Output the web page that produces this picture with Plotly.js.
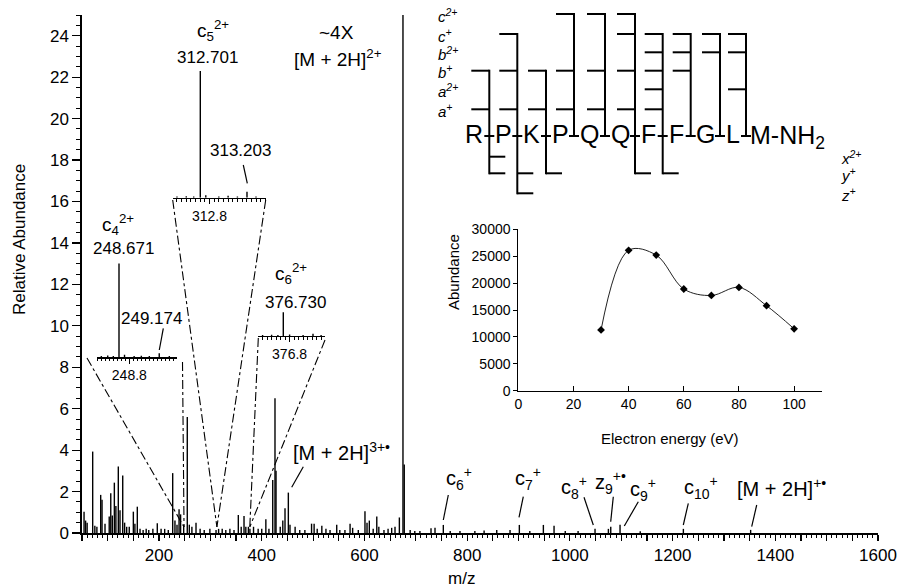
<!DOCTYPE html>
<html><head><meta charset="utf-8">
<script src="https://cdn.plot.ly/plotly-3.0.1.min.js"></script>
<style>html,body{margin:0;padding:0;background:#fff}</style>
</head><body><div id="chart" style="width:897px;height:588px"></div>
<script>
// ---------------- DATA ----------------
// Main ECD/EID spectrum (stick peaks): m/z and relative abundance
const peakMz = [54, 57, 60, 70.8, 75, 79, 86.4, 89, 94.8, 103, 106, 109, 113, 116, 120.7, 124, 129.3, 133, 137, 142,
  150, 153, 157.7, 163, 169, 175, 180, 188, 196.6, 204, 211, 218, 226.6, 231, 235, 239, 242, 248, 255, 259, 264, 272,
  280, 288, 299, 311, 316, 323, 330, 338, 346, 354.4, 360, 365.5, 369, 374, 377, 384, 393, 400, 408, 414, 421.4, 425.8,
  427.8, 436, 441, 445.3, 451.8, 455, 465, 474, 484, 497, 502, 508, 517, 525, 533, 546, 552, 562, 572, 577, 588, 601,
  605, 609.5, 617, 624, 628, 638, 646, 653, 659.5, 668, 675, 677.5, 689, 698, 708, 729.6, 737.4, 753.6, 767, 786, 815,
  833, 857.6, 883.5, 901.6, 922, 948.4, 969.2, 991, 1016, 1049, 1075, 1079.6, 1097.7, 1137, 1221, 1352];
const peakAbund = [1.03, 0.6, 0.5, 3.93, 0.35, 0.3, 1.84, 1.6, 0.45, 0.8, 1.92, 0.85, 2.43, 1.3, 3.21, 1.1, 2.77, 0.5, 0.3, 0.3,
  1.03, 0.45, 1.27, 0.2, 0.15, 0.2, 0.15, 0.2, 0.47, 0.2, 0.2, 0.15, 2.89, 0.6, 0.4, 1.15, 0.9, 0.4, 5.6, 0.4, 0.3, 0.5,
  0.2, 0.15, 0.2, 0.15, 0.2, 0.2, 0.15, 0.2, 0.15, 0.87, 0.3, 0.82, 0.3, 0.3, 0.2, 0.3, 0.2, 0.2, 0.66, 0.2, 2.56, 6.5,
  3.0, 0.3, 0.6, 1.19, 1.95, 0.4, 0.3, 0.15, 0.15, 0.45, 0.45, 0.2, 0.35, 0.2, 0.15, 0.4, 0.15, 0.15, 0.45, 0.25, 0.15, 1.05,
  0.5, 0.6, 0.2, 0.8, 0.3, 0.15, 0.2, 0.25, 0.3, 0.75, 100, 3.3, 0.15, 0.1, 0.1, 0.23, 0.25, 0.39, 0.1, 0.1, 0.1,
  0.12, 0.15, 0.15, 0.39, 0.1, 0.39, 0.35, 0.1, 0.1, 0.2, 0.2, 0.3, 0.4, 0.08, 0.2, 0.15];

// Zoomed isotope clusters (same relative scale, c5 2+ = 100)
const c4Mz = [248.45, 248.53, 248.60, 248.671, 248.74, 248.86, 248.95, 249.05, 249.174, 249.3];
const c4Abund = [1.0, 1.5, 1.0, 74, 2.0, 1.0, 1.2, 1.0, 3.2, 1.0];
const c5Mz = [312.45, 312.55, 312.63, 312.701, 312.76, 312.9, 313.0, 313.1, 313.203, 313.3];
const c5Abund = [1.0, 1.2, 1.0, 100, 2.0, 1.0, 1.5, 1.0, 4.7, 1.0];
const c6Mz = [376.5, 376.6, 376.67, 376.730, 376.8, 376.95, 377.06, 377.15];
const c6Abund = [0.8, 1.0, 0.8, 18.7, 1.2, 0.8, 1.8, 0.8];

// Inset: abundance vs electron energy
const energyEv = [30, 40, 50, 60, 70, 80, 90, 100];
const energyAbund = [11300, 26100, 25200, 18900, 17700, 19200, 15800, 11500];

// Fragmentation map of substance P
const residues = ['R', 'P', 'K', 'P', 'Q', 'Q', 'F', 'F', 'G', 'L', 'M-NH<sub>2</sub>'];
const nRowLabels = ['c<sup>2+</sup>', 'c<sup>+</sup>', 'b<sup>2+</sup>', 'b<sup>+</sup>', 'a<sup>2+</sup>', 'a<sup>+</sup>'];
const c2Sites = [4, 5, 6];
const c1Sites = [2, 6, 7, 8, 9, 10];
const b2Sites = [7, 8, 9, 10];
const b1Sites = [1, 2, 3, 4, 5, 6, 7, 8];
const a2Sites = [7, 10];
const a1Sites = [1, 2, 3, 4, 5, 6, 7];
const cRowLabels = ['x<sup>2+</sup>', 'y<sup>+</sup>', 'z<sup>+</sup>'];
const x2Sites = [1];
const y1Sites = [1, 2, 3, 6, 7];
const z1Sites = [2];

// Axis tick labels
const mzTickStep = 50, mzLabelStep = 200;

// ---------------- LAYOUT HELPERS ----------------
const W = 897, H = 588, ML = 82, MR = 19, MT = 15, MB = 55;
const PW = W - ML - MR, PH = H - MT - MB;
const px = x => (x - ML) / PW;
const py = y => (H - MB - y) / PH;
const MZ0 = 50, MZ1 = 1600;
const mzPx = m => ML + (m - MZ0) / (MZ1 - MZ0) * PW;
const FONT = 'Liberation Sans, Arial, Helvetica, sans-serif';

function sticks(mz, ab) {
  const x = [], y = [];
  mz.forEach((m, i) => { x.push(m, m, null); y.push(0, ab[i], null); });
  return {x, y};
}

const shapes = [];
const annotations = [];
function seg(x0, y0, x1, y1, w, dash) {
  shapes.push({type: 'line', xref: 'paper', yref: 'paper', x0: px(x0), y0: py(y0), x1: px(x1), y1: py(y1),
    line: {color: '#000', width: w || 1.2, dash: dash || 'solid'}});
}
function ann(text, x, y, size, opts) {
  annotations.push(Object.assign({text: text, xref: 'paper', yref: 'paper', x: px(x), y: py(y),
    showarrow: false, xanchor: 'center', yanchor: 'middle', font: {family: FONT, size: size || 17, color: '#000'}}, opts || {}));
}

// ---------------- TRACES ----------------
const main = sticks(peakMz, peakAbund);
const s4 = sticks(c4Mz, c4Abund), s5 = sticks(c5Mz, c5Abund), s6 = sticks(c6Mz, c6Abund);
const stick = {color: '#000', width: 1.4};
const traces = [
  {x: main.x, y: main.y, mode: 'lines', line: stick, xaxis: 'x', yaxis: 'y', hoverinfo: 'skip'},
  {x: s4.x, y: s4.y, mode: 'lines', line: stick, xaxis: 'x2', yaxis: 'y2', hoverinfo: 'skip'},
  {x: s5.x, y: s5.y, mode: 'lines', line: stick, xaxis: 'x3', yaxis: 'y3', hoverinfo: 'skip'},
  {x: s6.x, y: s6.y, mode: 'lines', line: stick, xaxis: 'x4', yaxis: 'y4', hoverinfo: 'skip'},
  {x: energyEv, y: energyAbund, mode: 'lines+markers', line: {shape: 'spline', smoothing: 1, color: '#222', width: 1},
    marker: {symbol: 'diamond', size: 6, color: '#000'}, xaxis: 'x5', yaxis: 'y5'}
];

// main x ticks
const mzTicks = [], mzText = [];
for (let m = MZ0; m <= MZ1; m += mzTickStep) { mzTicks.push(m); mzText.push(m % mzLabelStep === 0 ? String(m) : ''); }

// inset geometry (pixels)
const inset = {
  c4: {x0: 96.7, x1: 177.3, base: 357.3},
  c5: {x0: 172.7, x1: 265.7, base: 197.7},
  c6: {x0: 258.3, x1: 325, base: 336}
};
const insetH = 126.7 / PH;   // 100 units tall
function insetX(g, mzAt, pxAt, pxPerUnit, tick) {
  return {domain: [px(g.x0), px(g.x1)], range: [mzAt - (pxAt - g.x0) / pxPerUnit, mzAt + (g.x1 - pxAt) / pxPerUnit],
    anchor: 'free', position: py(g.base), showline: true, linecolor: '#000', linewidth: 1.3,
    tickmode: 'array', tickvals: [tick], ticktext: [String(tick)], ticks: 'outside', ticklen: 5, tickwidth: 1, tickcolor: '#000',
    minor: {tickmode: 'linear', tick0: Math.floor(mzAt), dtick: 0.05, ticks: 'outside', ticklen: 2.5, tickcolor: '#000', tickwidth: 1},
    tickfont: {family: FONT, size: 14, color: '#000'}, showgrid: false, zeroline: false, fixedrange: true};
}
function insetY(g, xa) {
  return {domain: [py(g.base), py(g.base) + insetH], range: [0, 100], visible: false, anchor: xa, fixedrange: true};
}

const layout = {
  width: W, height: H, margin: {l: ML, r: MR, t: MT, b: MB}, paper_bgcolor: '#fff', plot_bgcolor: 'rgba(0,0,0,0)',
  showlegend: false, font: {family: FONT, color: '#000'},
  xaxis: {range: [MZ0, MZ1], showline: true, linecolor: '#000', linewidth: 1.6, showgrid: false, zeroline: false,
    tickmode: 'array', tickvals: mzTicks, ticktext: mzText, ticks: 'outside', ticklen: 6, tickwidth: 1.2, tickcolor: '#000',
    minor: {tickmode: 'linear', tick0: 0, dtick: 10, ticks: 'outside', ticklen: 3, tickwidth: 1, tickcolor: '#000'},
    tickfont: {family: FONT, size: 17, color: '#000'}},
  yaxis: {range: [0, 25], showline: true, linecolor: '#000', linewidth: 1.6, showgrid: false, zeroline: false,
    tickmode: 'linear', tick0: 0, dtick: 2, ticks: 'outside', ticklen: 8, tickwidth: 1.2, tickcolor: '#000',
    minor: {dtick: 0.5, ticks: 'outside', ticklen: 4, tickwidth: 1, tickcolor: '#000'},
    tickfont: {family: FONT, size: 17, color: '#000'}},
  xaxis2: insetX(inset.c4, 248.671, 119, 80, 248.8),
  yaxis2: insetY(inset.c4, 'x2'),
  xaxis3: insetX(inset.c5, 312.701, 200.3, 93, 312.8),
  yaxis3: insetY(inset.c5, 'x3'),
  xaxis4: insetX(inset.c6, 376.730, 283.3, 90, 376.8),
  yaxis4: insetY(inset.c6, 'x4'),
  xaxis5: {domain: [px(518.3), px(821.7)], range: [0, 110], anchor: 'y5', showline: true, linecolor: '#000', linewidth: 1,
    showgrid: false, zeroline: false, tickmode: 'linear', tick0: 0, dtick: 20, ticks: 'inside', ticklen: 5, tickcolor: '#000',
    tickfont: {family: FONT, size: 14, color: '#000'}},
  yaxis5: {domain: [py(390.7), py(229.3)], range: [0, 30000], anchor: 'x5', showline: true, linecolor: '#000', linewidth: 1,
    showgrid: false, zeroline: false, tickmode: 'linear', tick0: 0, dtick: 5000, ticks: 'outside', ticklen: 4, tickcolor: '#000',
    tickformat: 'd', exponentformat: 'none', separatethousands: false,
    tickfont: {family: FONT, size: 14, color: '#000'}},
  shapes: shapes, annotations: annotations
};

// ---------------- AXIS TITLES ----------------
ann('Relative Abundance', 19, 240, 17, {textangle: -90});
ann('m/z', 461, 578, 17);
ann('Electron energy (eV)', 670, 438, 15);
ann('Abundance', 453, 272, 15, {textangle: -90});

// ---------------- PEAK LABELS ----------------
ann('~4X', 336, 32, 19);
ann('[M + 2H]<sup>2+</sup>', 337.5, 58, 19);
ann('c<sub>5</sub><sup>2+</sup>', 212.5, 30, 19);
ann('312.701', 207.5, 58, 17);
ann('313.203', 240, 150, 17);
seg(243.3, 165, 247.3, 183.3, 1.2);
ann('c<sub>4</sub><sup>2+</sup>', 118, 225, 19);
ann('248.671', 123, 248, 17);
ann('249.174', 151.7, 318, 17);
seg(163.3, 328.3, 159.3, 350, 1.2);
ann('c<sub>6</sub><sup>2+</sup>', 291, 273, 19);
ann('376.730', 295, 302, 17);

// zoom connectors (dash-dot) to the parent peak on the m/z axis
function connect(xs, ys, mz) { seg(xs, ys, mzPx(mz), 527, 1.1, 'dashdot'); }
connect(87, 358, c4Mz[3]); connect(182.5, 362, c4Mz[3]);
connect(inset.c5.x0, 200, c5Mz[3]); connect(inset.c5.x1, 200, c5Mz[3]);
connect(inset.c6.x0, 338, c6Mz[3]); connect(inset.c6.x1, 340, c6Mz[3]);

// fragment annotations on main spectrum
ann('[M + 2H]<sup>3+•</sup>', 341.7, 451, 20); seg(303.3, 466.7, 291.7, 487.3, 1.2);
ann('c<sub>6</sub><sup>+</sup>', 459, 478, 20); seg(448.3, 495, 443.3, 520, 1.2);
ann('c<sub>7</sub><sup>+</sup>', 527.5, 478, 20); seg(523.3, 496.7, 519, 517.3, 1.2);
ann('c<sub>8</sub><sup>+</sup>', 574, 487, 20); seg(584, 497.3, 593.3, 525, 1.2);
ann('z<sub>9</sub><sup>+•</sup>', 610, 482, 20); seg(613.3, 496.7, 610.7, 521.7, 1.2);
ann('c<sub>9</sub><sup>+</sup>', 643, 489, 20); seg(638.3, 501.7, 624.3, 526, 1.2);
ann('c<sub>10</sub><sup>+</sup>', 701, 487, 20); seg(688.3, 503.3, 683.3, 525, 1.2);
ann('[M + 2H]<sup>+•</sup>', 781.7, 487, 20); seg(756.7, 505, 751.7, 526.7, 1.2);

// ---------------- FRAGMENTATION MAP ----------------
const siteX = [489.3, 517.3, 546, 574, 605, 635, 662.7, 690.7, 720, 746];
const nRowY = [14, 34, 52.3, 70.7, 89.3, 109.3];
const cRowY = [156.7, 173.3, 193.3];
const nSets = [c2Sites, c1Sites, b2Sites, b1Sites, a2Sites, a1Sites];
const cSets = [x2Sites, y1Sites, z1Sites];
const dashY = 136, seqY = 134;
siteX.forEach((sx, i) => {
  const site = i + 1;
  let top = dashY, bot = dashY;
  nSets.forEach((set, r) => { if (set.includes(site)) { seg(sx - 18, nRowY[r], sx, nRowY[r], 2); top = Math.min(top, nRowY[r]); } });
  cSets.forEach((set, r) => { if (set.includes(site)) { seg(sx, cRowY[r], sx + 16, cRowY[r], 2); bot = Math.max(bot, cRowY[r]); } });
  seg(sx, top - 1, sx, bot + 1, 2);
  seg(sx - 5, dashY, sx + 5, dashY, 2);
});
residues.forEach((r, i) => {
  if (i === 0) ann(r, siteX[0] - 15.5, seqY, 25);
  else if (i === residues.length - 1) ann(r, siteX[9] + 2, seqY + 3, 25, {xanchor: 'left'});
  else ann(r, (siteX[i - 1] + siteX[i]) / 2, seqY, 25);
});
nRowLabels.forEach((t, r) => ann('<i>' + t + '</i>', 436, nRowY[r] + 1, 15, {xanchor: 'left'}));
cRowLabels.forEach((t, r) => ann('<i>' + t + '</i>', 839, cRowY[r] + 1, 15, {xanchor: 'left'}));

Plotly.newPlot('chart', traces, layout, {staticPlot: true, displayModeBar: false});
</script>
</body></html>
